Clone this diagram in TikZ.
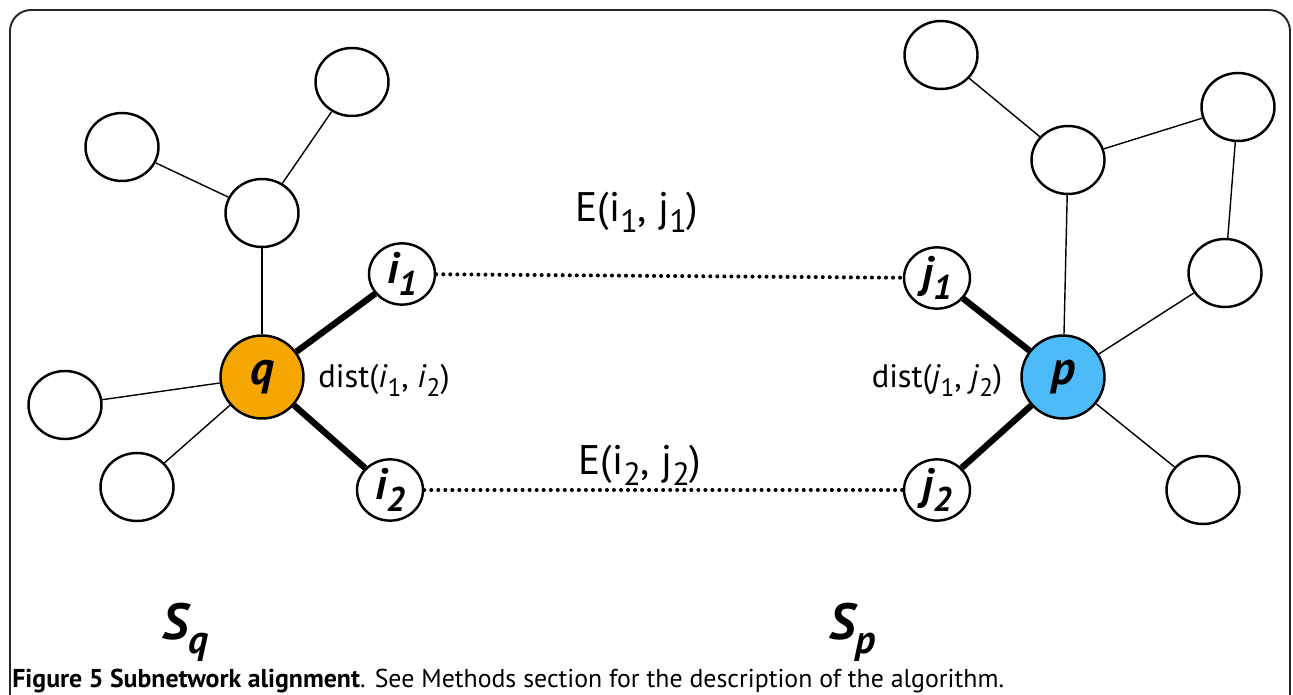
\documentclass[tikz,border=0pt]{standalone}
\usepackage{fontspec}
\setmainfont{PT Sans}
\usetikzlibrary{shapes.geometric}
\definecolor{qorange}{RGB}{246,166,0}
\definecolor{pblue}{RGB}{77,187,247}
\newcommand{\lowsub}[1]{\raisebox{-0.55ex}{\scalebox{0.78}{#1}}}

\begin{document}
\begin{tikzpicture}[x=0.02cm, y=-0.02cm,
    vertex/.style={ellipse, draw=black, line width=1.4pt, fill=white,
        minimum width=1.46cm, minimum height=1.36cm, inner sep=0pt},
    leaf/.style={vertex, minimum width=1.32cm, minimum height=1.14cm,
        font=\fontsize{25}{25}\selectfont\bfseries\itshape},
    seed/.style={circle, draw=black, line width=1.4pt, minimum size=1.66cm,
        inner sep=0pt, font=\fontsize{27}{27}\selectfont\bfseries\itshape},
    link/.style={line width=0.8pt},
    strong/.style={line width=3.6pt},
    dotlink/.style={line width=2.3pt, dash pattern=on 0pt off 4pt, line cap=round},
    lbl/.style={font=\fontsize{18.5}{18.5}\selectfont},
    setname/.style={font=\fontsize{29}{29}\selectfont\bfseries\itshape}
]
    \useasboundingbox (0,0) rectangle (1293,695);
    \begin{scope}
    \clip (0,0) rectangle (1293,695);
    \draw[line width=1.1pt, black!85, rounded corners=12pt]
        (10,720) -- (10,10) -- (1290,10) -- (1290,720);
    \end{scope}

    % left subnetwork S_q
    \node[vertex] (qtr) at (352,82) {};
    \node[vertex] (qtl) at (122,147) {};
    \node[vertex] (qhub) at (262,213) {};
    \node[vertex] (qlft) at (65,405) {};
    \node[vertex] (qbl) at (137,487) {};
    \node[seed, fill=qorange] (q) at (262,377) {q};
    \node[leaf] (i1) at (402,274) {i\lowsub{1}};
    \node[leaf] (i2) at (390,490) {i\lowsub{2}};

    % right subnetwork S_p
    \node[vertex] (ptop) at (941,55) {};
    \node[vertex] (phub) at (1068,160) {};
    \node[vertex] (ptr) at (1238,107) {};
    \node[vertex] (prm) at (1225,273) {};
    \node[vertex] (pbr) at (1203,490) {};
    \node[seed, fill=pblue] (p) at (1063,377) {p};
    \node[leaf] (j1) at (937,278) {j\lowsub{1}};
    \node[leaf] (j2) at (937,490) {j\lowsub{2}};

    \draw[link] (qhub) -- (qtr);
    \draw[link] (qhub) -- (qtl);
    \draw[link] (qhub) -- (q);
    \draw[link] (q) -- (qlft);
    \draw[link] (q) -- (qbl);
    \draw[strong] (q) -- (i1);
    \draw[strong] (q) -- (i2);

    \draw[link] (phub) -- (ptop);
    \draw[link] (phub) -- (ptr);
    \draw[link] (ptr) -- (prm);
    \draw[link] (phub) -- (p);
    \draw[link] (prm) -- (p);
    \draw[link] (p) -- (pbr);
    \draw[strong] (p) -- (j1);
    \draw[strong] (p) -- (j2);

    \draw[dotlink] (i1) -- (j1);
    \draw[dotlink] (i2) -- (j2);

    \node[lbl, font=\fontsize{23.5}{23.5}\selectfont] (e1) at (637,212) {E(i\lowsub{1}, j\lowsub{1})};
    \node[lbl, font=\fontsize{23.5}{23.5}\selectfont] (e2) at (640,465) {E(i\lowsub{2}, j\lowsub{2})};
    \node[lbl] (dq) at (384,380) {dist(\textit{i}\lowsub{1}, \textit{i}\lowsub{2})};
    \node[lbl] (dp) at (937,380) {dist(\textit{j}\lowsub{1}, \textit{j}\lowsub{2})};

    \node[setname] (sq) at (185,632) {S\lowsub{q}};
    \node[setname] (sp) at (853,632) {S\lowsub{p}};

    \node[anchor=base west, inner sep=0pt, font=\fontsize{14.7}{15}\selectfont] (cap) at (12,687)
        {\textbf{Figure 5 Subnetwork alignment}. See Methods section for the description of the algorithm.};
\end{tikzpicture}
\end{document}
